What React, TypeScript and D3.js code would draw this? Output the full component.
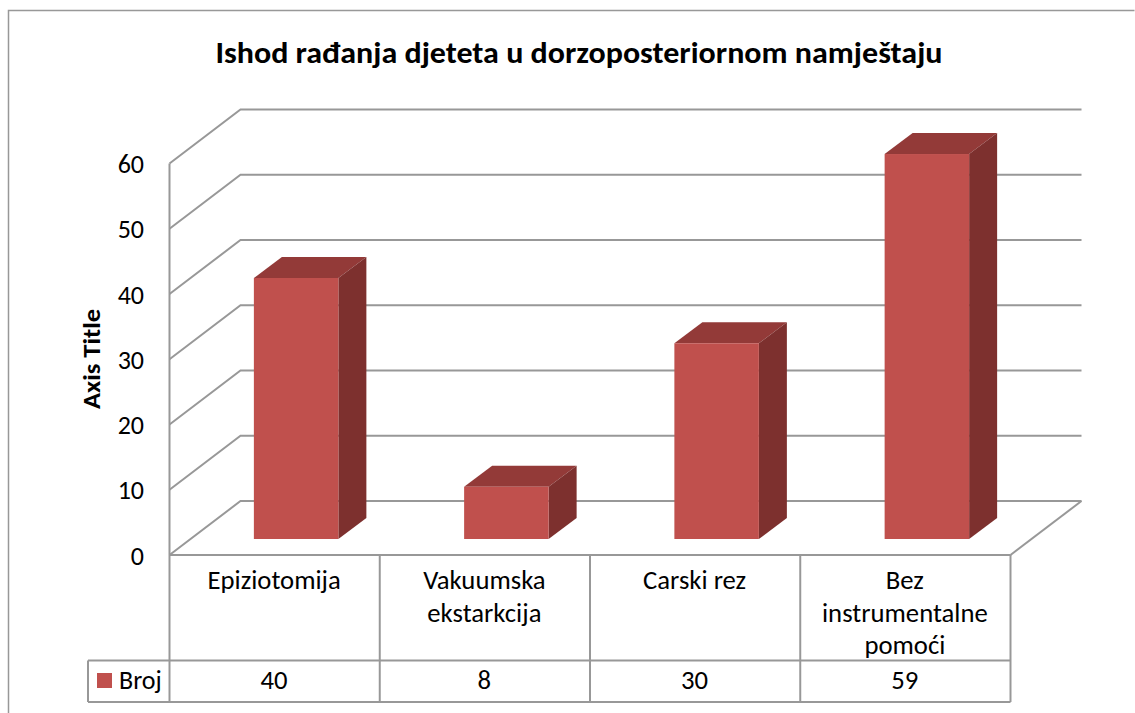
import React from "react";
import * as d3 from "d3";

const title = "Ishod rađanja djeteta u dorzoposteriornom namještaju";
const axisTitle = "Axis Title";
const seriesName = "Broj";
const categories = ["Epiziotomija", "Vakuumska ekstarkcija", "Carski rez", "Bez instrumentalne pomoći"];
const categoryLines = [["Epiziotomija"], ["Vakuumska", "ekstarkcija"], ["Carski rez"], ["Bez", "instrumentalne", "pomoći"]];
const values = [40, 8, 30, 59];
const ticks = [0, 10, 20, 30, 40, 50, 60];

const FONT = "Carlito, 'Open Sans', 'Noto Sans', sans-serif";
const GRID = "#989898";
const x = d3.scaleBand<string>().domain(categories).range([169.5, 1010.5]);
const y = d3.scaleLinear().domain([0, 60]).range([555, 163.5]);
const DX = 71, DY = -54;
const BDX = 28, BDY = -21;
const GX = 21.5, GY = -16;
const BAR_W = 84.5;

export default function App() {
  const textStyle = { fontFamily: FONT, fill: "#000" };
  const bw = x.bandwidth();
  return (
    <svg width={1135} height={713} style={{ position: "absolute", left: 0, top: 0 }}>
      <rect width={1135} height={713} fill="#fff" />
      <path d="M8.5 713V10.5H1134.5" fill="none" stroke={GRID} strokeWidth={1.5} />
      <text x={579} y={63} textAnchor="middle" fontSize={31} fontWeight={700} style={textStyle} textLength={727} lengthAdjust="spacingAndGlyphs">{title}</text>
      <text transform="translate(100,359) rotate(-90)" textAnchor="middle" fontSize={24} fontWeight={700} style={textStyle} textLength={100} lengthAdjust="spacingAndGlyphs">{axisTitle}</text>

      <line x1={x.range()[0]} x2={x.range()[0]} y1={y(60)} y2={y(0)} stroke={GRID} strokeWidth={2} />
      {ticks.map((t) => (
        <g key={t}>
          <polyline
            points={`${x.range()[0]},${y(t)} ${x.range()[0] + DX},${y(t) + DY} ${x.range()[1] + DX},${y(t) + DY}`}
            fill="none" stroke={GRID} strokeWidth={2} />
          <text x={144} y={y(t) + 9.5} textAnchor="end" fontSize={26} style={textStyle}>{t}</text>
        </g>
      ))}
      <line x1={x.range()[1]} x2={x.range()[1] + DX} y1={y(0)} y2={y(0) + DY} stroke={GRID} strokeWidth={2} />

      {values.map((v, i) => {
        const x0 = x(categories[i])! + (bw - BAR_W) / 2 + GX;
        const x1 = x0 + BAR_W;
        const yb = y(0) + GY;
        const yt = y(v) + GY;
        return (
          <g key={categories[i]}>
            <polygon points={`${x0},${yt} ${x0 + BDX},${yt + BDY} ${x1 + BDX},${yt + BDY} ${x1},${yt}`} fill="#933a38" />
            <polygon points={`${x1},${yt} ${x1 + BDX},${yt + BDY} ${x1 + BDX},${yb + BDY} ${x1},${yb}`} fill="#7d302e" />
            <rect x={x0} y={yt} width={BAR_W} height={yb - yt} fill="#c0504d" />
          </g>
        );
      })}

      {/* data table */}
      <line x1={x.range()[0]} x2={x.range()[1]} y1={555} y2={555} stroke={GRID} strokeWidth={2} />
      <line x1={88} x2={x.range()[1]} y1={660.5} y2={660.5} stroke={GRID} strokeWidth={2} />
      <line x1={88} x2={x.range()[1]} y1={702} y2={702} stroke={GRID} strokeWidth={2} />
      <line x1={88} x2={88} y1={660.5} y2={702} stroke={GRID} strokeWidth={2} />
      {[...categories.map((c) => x(c)!), x.range()[1]].map((px) => (
        <line key={px} x1={px} x2={px} y1={555} y2={702} stroke={GRID} strokeWidth={2} />
      ))}
      {categories.map((c, i) => {
        const cx = x(c)! + bw / 2;
        return (
          <g key={c}>
            {categoryLines[i].map((l, j) => (
              <text key={l} x={cx - 0.5} y={589 + j * 32.5} textAnchor="middle" fontSize={26.7} style={textStyle}>{l}</text>
            ))}
            <text x={cx - 0.5} y={689} textAnchor="middle" fontSize={26.7} style={textStyle}>{values[i]}</text>
          </g>
        );
      })}
      <rect x={97} y={673} width={15} height={15} fill="#c0504d" />
      <text x={119} y={689} fontSize={26} style={textStyle}>{seriesName}</text>
    </svg>
  );
}
